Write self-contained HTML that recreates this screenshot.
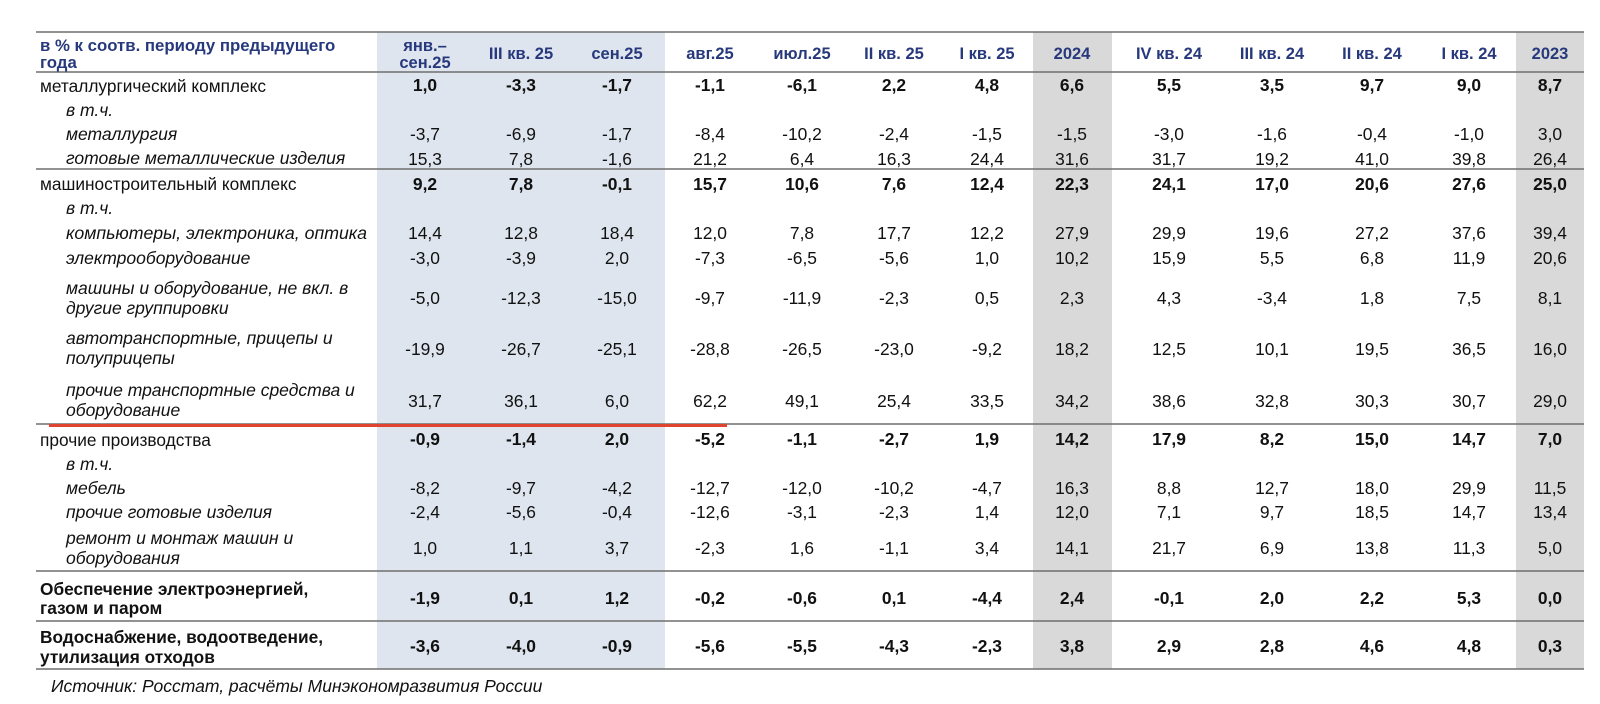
<!DOCTYPE html>
<html><head><meta charset="utf-8">
<style>
html,body{margin:0;padding:0;background:#fff;}
svg{display:block;}
text{font-family:"Liberation Sans",Arial,sans-serif;}
.h{font-size:16.5px;font-weight:bold;fill:#27397c;}
.h0{font-size:16.8px;font-weight:bold;fill:#27397c;}
.n{font-size:17.4px;fill:#111;text-anchor:middle;}
.b{font-weight:bold;}
.l{font-size:17.3px;fill:#111;}
.i{font-size:17.5px;fill:#111;font-style:italic;}
.hc{text-anchor:middle;}
</style></head><body>
<svg width="1600" height="704" viewBox="0 0 1600 704" xmlns="http://www.w3.org/2000/svg">
<rect x="0" y="0" width="1600" height="704" fill="#fff"/>
<!-- shading -->
<rect x="377" y="32" width="288" height="637" fill="#dee5ee"/>
<rect x="1033" y="32" width="79" height="637" fill="#d9d9d9"/>
<rect x="1516" y="32" width="68" height="637" fill="#d9d9d9"/>
<!-- lines -->
<g stroke="#6f6f6f" stroke-width="1.6">
<line x1="36" y1="32" x2="1584" y2="32"/>
<line x1="36" y1="72" x2="1584" y2="72"/>
<line x1="36" y1="169" x2="1584" y2="169"/>
<line x1="36" y1="424" x2="1584" y2="424"/>
<line x1="36" y1="571" x2="1584" y2="571"/>
<line x1="36" y1="621" x2="1584" y2="621"/>
<line x1="36" y1="669" x2="1584" y2="669"/>
</g>
<line x1="49" y1="425.5" x2="727" y2="425.5" stroke="#e0442f" stroke-width="3"/>

<!-- header -->
<text class="h0" x="40" y="51">в % к соотв. периоду предыдущего</text>
<text class="h0" x="40" y="68">года</text>
<g class="h hc">
<text x="425" y="51">янв.–</text>
<text x="425" y="68">сен.25</text>
<text x="521" y="59">III кв. 25</text>
<text x="617" y="59">сен.25</text>
<text x="710" y="59">авг.25</text>
<text x="802" y="59">июл.25</text>
<text x="894" y="59">II кв. 25</text>
<text x="987" y="59">I кв. 25</text>
<text x="1072" y="59">2024</text>
<text x="1169" y="59">IV кв. 24</text>
<text x="1272" y="59">III кв. 24</text>
<text x="1372" y="59">II кв. 24</text>
<text x="1469" y="59">I кв. 24</text>
<text x="1550" y="59">2023</text>
</g>

<!-- labels -->
<text class="l" x="40" y="92">металлургический комплекс</text>
<text class="i" x="66" y="116">в т.ч.</text>
<text class="i" x="66" y="140">металлургия</text>
<text class="i" x="66" y="164">готовые металлические изделия</text>

<text class="l" x="40" y="190">машиностроительный комплекс</text>
<text class="i" x="66" y="214">в т.ч.</text>
<text class="i" x="66" y="239" textLength="301" lengthAdjust="spacingAndGlyphs">компьютеры, электроника, оптика</text>
<text class="i" x="66" y="264">электрооборудование</text>
<text class="i" x="66" y="294">машины и оборудование, не вкл. в</text>
<text class="i" x="66" y="314">другие группировки</text>
<text class="i" x="66" y="344">автотранспортные, прицепы и</text>
<text class="i" x="66" y="364">полуприцепы</text>
<text class="i" x="66" y="396">прочие транспортные средства и</text>
<text class="i" x="66" y="416">оборудование</text>

<text class="l" x="40" y="446">прочие производства</text>
<text class="i" x="66" y="470">в т.ч.</text>
<text class="i" x="66" y="494">мебель</text>
<text class="i" x="66" y="518">прочие готовые изделия</text>
<text class="i" x="66" y="544">ремонт и монтаж машин и</text>
<text class="i" x="66" y="564">оборудования</text>

<text class="l b" x="40" y="595">Обеспечение электроэнергией,</text>
<text class="l b" x="40" y="614">газом и паром</text>
<text class="l b" x="40" y="643">Водоснабжение, водоотведение,</text>
<text class="l b" x="40" y="663">утилизация отходов</text>

<text class="i" x="51" y="692">Источник: Росстат, расчёты Минэкономразвития России</text>

<!-- numbers -->
<g class="n b">
<text y="91"><tspan x="425">1,0</tspan><tspan x="521">-3,3</tspan><tspan x="617">-1,7</tspan><tspan x="710">-1,1</tspan><tspan x="802">-6,1</tspan><tspan x="894">2,2</tspan><tspan x="987">4,8</tspan><tspan x="1072">6,6</tspan><tspan x="1169">5,5</tspan><tspan x="1272">3,5</tspan><tspan x="1372">9,7</tspan><tspan x="1469">9,0</tspan><tspan x="1550">8,7</tspan></text>
<text y="190"><tspan x="425">9,2</tspan><tspan x="521">7,8</tspan><tspan x="617">-0,1</tspan><tspan x="710">15,7</tspan><tspan x="802">10,6</tspan><tspan x="894">7,6</tspan><tspan x="987">12,4</tspan><tspan x="1072">22,3</tspan><tspan x="1169">24,1</tspan><tspan x="1272">17,0</tspan><tspan x="1372">20,6</tspan><tspan x="1469">27,6</tspan><tspan x="1550">25,0</tspan></text>
<text y="445"><tspan x="425">-0,9</tspan><tspan x="521">-1,4</tspan><tspan x="617">2,0</tspan><tspan x="710">-5,2</tspan><tspan x="802">-1,1</tspan><tspan x="894">-2,7</tspan><tspan x="987">1,9</tspan><tspan x="1072">14,2</tspan><tspan x="1169">17,9</tspan><tspan x="1272">8,2</tspan><tspan x="1372">15,0</tspan><tspan x="1469">14,7</tspan><tspan x="1550">7,0</tspan></text>
<text y="604"><tspan x="425">-1,9</tspan><tspan x="521">0,1</tspan><tspan x="617">1,2</tspan><tspan x="710">-0,2</tspan><tspan x="802">-0,6</tspan><tspan x="894">0,1</tspan><tspan x="987">-4,4</tspan><tspan x="1072">2,4</tspan><tspan x="1169">-0,1</tspan><tspan x="1272">2,0</tspan><tspan x="1372">2,2</tspan><tspan x="1469">5,3</tspan><tspan x="1550">0,0</tspan></text>
<text y="652"><tspan x="425">-3,6</tspan><tspan x="521">-4,0</tspan><tspan x="617">-0,9</tspan><tspan x="710">-5,6</tspan><tspan x="802">-5,5</tspan><tspan x="894">-4,3</tspan><tspan x="987">-2,3</tspan><tspan x="1072">3,8</tspan><tspan x="1169">2,9</tspan><tspan x="1272">2,8</tspan><tspan x="1372">4,6</tspan><tspan x="1469">4,8</tspan><tspan x="1550">0,3</tspan></text>
</g>
<g class="n">
<text y="140"><tspan x="425">-3,7</tspan><tspan x="521">-6,9</tspan><tspan x="617">-1,7</tspan><tspan x="710">-8,4</tspan><tspan x="802">-10,2</tspan><tspan x="894">-2,4</tspan><tspan x="987">-1,5</tspan><tspan x="1072">-1,5</tspan><tspan x="1169">-3,0</tspan><tspan x="1272">-1,6</tspan><tspan x="1372">-0,4</tspan><tspan x="1469">-1,0</tspan><tspan x="1550">3,0</tspan></text>
<text y="165"><tspan x="425">15,3</tspan><tspan x="521">7,8</tspan><tspan x="617">-1,6</tspan><tspan x="710">21,2</tspan><tspan x="802">6,4</tspan><tspan x="894">16,3</tspan><tspan x="987">24,4</tspan><tspan x="1072">31,6</tspan><tspan x="1169">31,7</tspan><tspan x="1272">19,2</tspan><tspan x="1372">41,0</tspan><tspan x="1469">39,8</tspan><tspan x="1550">26,4</tspan></text>
<text y="239"><tspan x="425">14,4</tspan><tspan x="521">12,8</tspan><tspan x="617">18,4</tspan><tspan x="710">12,0</tspan><tspan x="802">7,8</tspan><tspan x="894">17,7</tspan><tspan x="987">12,2</tspan><tspan x="1072">27,9</tspan><tspan x="1169">29,9</tspan><tspan x="1272">19,6</tspan><tspan x="1372">27,2</tspan><tspan x="1469">37,6</tspan><tspan x="1550">39,4</tspan></text>
<text y="264"><tspan x="425">-3,0</tspan><tspan x="521">-3,9</tspan><tspan x="617">2,0</tspan><tspan x="710">-7,3</tspan><tspan x="802">-6,5</tspan><tspan x="894">-5,6</tspan><tspan x="987">1,0</tspan><tspan x="1072">10,2</tspan><tspan x="1169">15,9</tspan><tspan x="1272">5,5</tspan><tspan x="1372">6,8</tspan><tspan x="1469">11,9</tspan><tspan x="1550">20,6</tspan></text>
<text y="304"><tspan x="425">-5,0</tspan><tspan x="521">-12,3</tspan><tspan x="617">-15,0</tspan><tspan x="710">-9,7</tspan><tspan x="802">-11,9</tspan><tspan x="894">-2,3</tspan><tspan x="987">0,5</tspan><tspan x="1072">2,3</tspan><tspan x="1169">4,3</tspan><tspan x="1272">-3,4</tspan><tspan x="1372">1,8</tspan><tspan x="1469">7,5</tspan><tspan x="1550">8,1</tspan></text>
<text y="355"><tspan x="425">-19,9</tspan><tspan x="521">-26,7</tspan><tspan x="617">-25,1</tspan><tspan x="710">-28,8</tspan><tspan x="802">-26,5</tspan><tspan x="894">-23,0</tspan><tspan x="987">-9,2</tspan><tspan x="1072">18,2</tspan><tspan x="1169">12,5</tspan><tspan x="1272">10,1</tspan><tspan x="1372">19,5</tspan><tspan x="1469">36,5</tspan><tspan x="1550">16,0</tspan></text>
<text y="407"><tspan x="425">31,7</tspan><tspan x="521">36,1</tspan><tspan x="617">6,0</tspan><tspan x="710">62,2</tspan><tspan x="802">49,1</tspan><tspan x="894">25,4</tspan><tspan x="987">33,5</tspan><tspan x="1072">34,2</tspan><tspan x="1169">38,6</tspan><tspan x="1272">32,8</tspan><tspan x="1372">30,3</tspan><tspan x="1469">30,7</tspan><tspan x="1550">29,0</tspan></text>
<text y="494"><tspan x="425">-8,2</tspan><tspan x="521">-9,7</tspan><tspan x="617">-4,2</tspan><tspan x="710">-12,7</tspan><tspan x="802">-12,0</tspan><tspan x="894">-10,2</tspan><tspan x="987">-4,7</tspan><tspan x="1072">16,3</tspan><tspan x="1169">8,8</tspan><tspan x="1272">12,7</tspan><tspan x="1372">18,0</tspan><tspan x="1469">29,9</tspan><tspan x="1550">11,5</tspan></text>
<text y="518"><tspan x="425">-2,4</tspan><tspan x="521">-5,6</tspan><tspan x="617">-0,4</tspan><tspan x="710">-12,6</tspan><tspan x="802">-3,1</tspan><tspan x="894">-2,3</tspan><tspan x="987">1,4</tspan><tspan x="1072">12,0</tspan><tspan x="1169">7,1</tspan><tspan x="1272">9,7</tspan><tspan x="1372">18,5</tspan><tspan x="1469">14,7</tspan><tspan x="1550">13,4</tspan></text>
<text y="554"><tspan x="425">1,0</tspan><tspan x="521">1,1</tspan><tspan x="617">3,7</tspan><tspan x="710">-2,3</tspan><tspan x="802">1,6</tspan><tspan x="894">-1,1</tspan><tspan x="987">3,4</tspan><tspan x="1072">14,1</tspan><tspan x="1169">21,7</tspan><tspan x="1272">6,9</tspan><tspan x="1372">13,8</tspan><tspan x="1469">11,3</tspan><tspan x="1550">5,0</tspan></text>
</g>
</svg>
</body></html>
